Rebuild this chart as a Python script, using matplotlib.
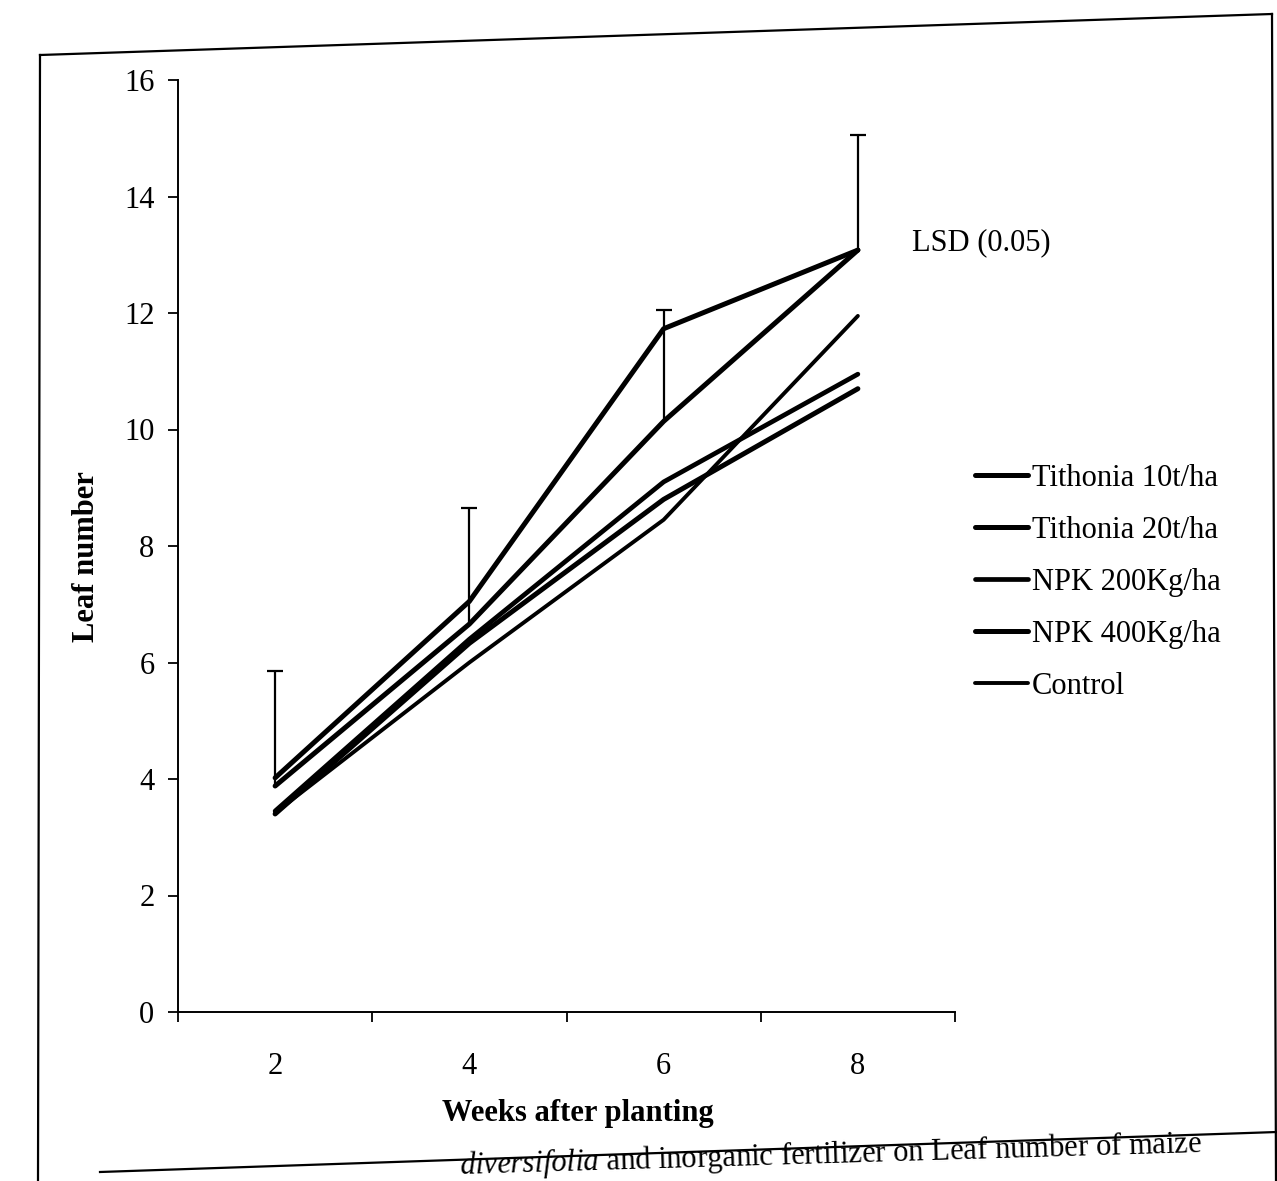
import matplotlib
matplotlib.use("Agg")
import matplotlib.pyplot as plt
from matplotlib.lines import Line2D
import numpy as np

plt.rcParams['font.family'] = ['Liberation Serif', 'DejaVu Serif']
plt.rcParams['mathtext.fontset'] = 'custom'
plt.rcParams['mathtext.rm'] = 'Liberation Serif'
plt.rcParams['mathtext.it'] = 'Liberation Serif:italic'

# ---- data ----
weeks = ['2', '4', '6', '8']
tithonia_10 = [3.88, 6.66, 10.14, 13.08]
tithonia_20 = [4.02, 7.05, 11.73, 13.08]
npk_200 = [3.45, 6.40, 9.10, 10.95]
npk_400 = [3.40, 6.33, 8.80, 10.70]
control = [3.42, 6.00, 8.45, 11.95]
lsd_05 = [1.97, 2.00, 1.91, 1.97]

series = [
    ('Tithonia 10t/ha', tithonia_10, 3.6),
    ('Tithonia 20t/ha', tithonia_20, 3.6),
    ('NPK 200Kg/ha', npk_200, 3.4),
    ('NPK 400Kg/ha', npk_400, 3.6),
    ('Control', control, 2.8),
]

W, H = 1277, 1181
fig = plt.figure(figsize=(W / 100, H / 100), dpi=100)
fig.patch.set_facecolor('white')

L, R, B, T = 178, 955, 1012, 80
ax = fig.add_axes([L / W, 1 - B / H, (R - L) / W, (B - T) / H])

x = np.arange(1, len(weeks) + 1)
handles = []
for name, vals, lw in series:
    h, = ax.plot(x, vals, color='black', lw=lw, solid_capstyle='round',
                 solid_joinstyle='round', label=name)
    handles.append(h)

eb = ax.errorbar(x, tithonia_10, yerr=[np.zeros(len(lsd_05)), lsd_05], fmt='none',
                 ecolor='black', elinewidth=1.6, capsize=6, capthick=1.6)
# keep only the upper caps (LSD bars drawn upward from the line)
caps = eb[1]
if len(caps) == 2:
    caps[0].set_visible(False)

ax.set_xlim(0.5, len(weeks) + 0.5)
ax.set_ylim(0, 16)
ax.set_yticks(np.arange(0, 17, 2))
ax.set_xticks(x)
ax.set_xticklabels(weeks)
ax.set_xticks(np.arange(0.5, len(weeks) + 1, 1.0), minor=True)

for s in ['top', 'right']:
    ax.spines[s].set_visible(False)
for s in ['left', 'bottom']:
    ax.spines[s].set_linewidth(1.4)

ax.tick_params(axis='y', direction='out', length=7, width=1.3, pad=10, labelsize=22)
ax.tick_params(axis='x', which='major', length=0, pad=29, labelsize=22)
ax.tick_params(axis='x', which='minor', direction='out', length=7, width=1.3)

ax.set_ylabel('Leaf number', fontsize=22, fontweight='bold', va='center')
ax.yaxis.set_label_coords((86 - L) / (R - L), (B - 557) / (B - T))
ax.set_xlabel('Weeks after planting', fontsize=22, fontweight='bold', va='center')
ax.xaxis.set_label_coords((578 - L) / (R - L), (B - 1113) / (B - T))

fig.text(912 / W, 1 - 243 / H, 'LSD (0.05)', fontsize=22, ha='left', va='center')

fig.legend(handles=handles, loc='upper left', bbox_to_anchor=(975 / W, 1 - 464 / H),
           frameon=False, fontsize=22, handlelength=1.75, handletextpad=0.12,
           labelspacing=0.75, borderpad=0, borderaxespad=0)

# page frame of the scanned figure
def fline(p0, p1, lw=1.6):
    fig.add_artist(Line2D([p0[0] / W, p1[0] / W], [1 - p0[1] / H, 1 - p1[1] / H],
                          transform=fig.transFigure, color='black', lw=lw))

fline((40, 55), (1272, 14))
fline((40, 55), (38, 1181))
fline((1272, 14), (1276, 1181))
fline((100, 1172), (1277, 1132))

fig.text(1202 / W, 1 - 1152 / H,
         r'$\mathit{diversifolia}$ and inorganic fertilizer on Leaf number of maize',
         fontsize=22, ha='right', va='baseline', rotation=1.7, rotation_mode='anchor')

fig.savefig('out.png', dpi=100, facecolor='white')
